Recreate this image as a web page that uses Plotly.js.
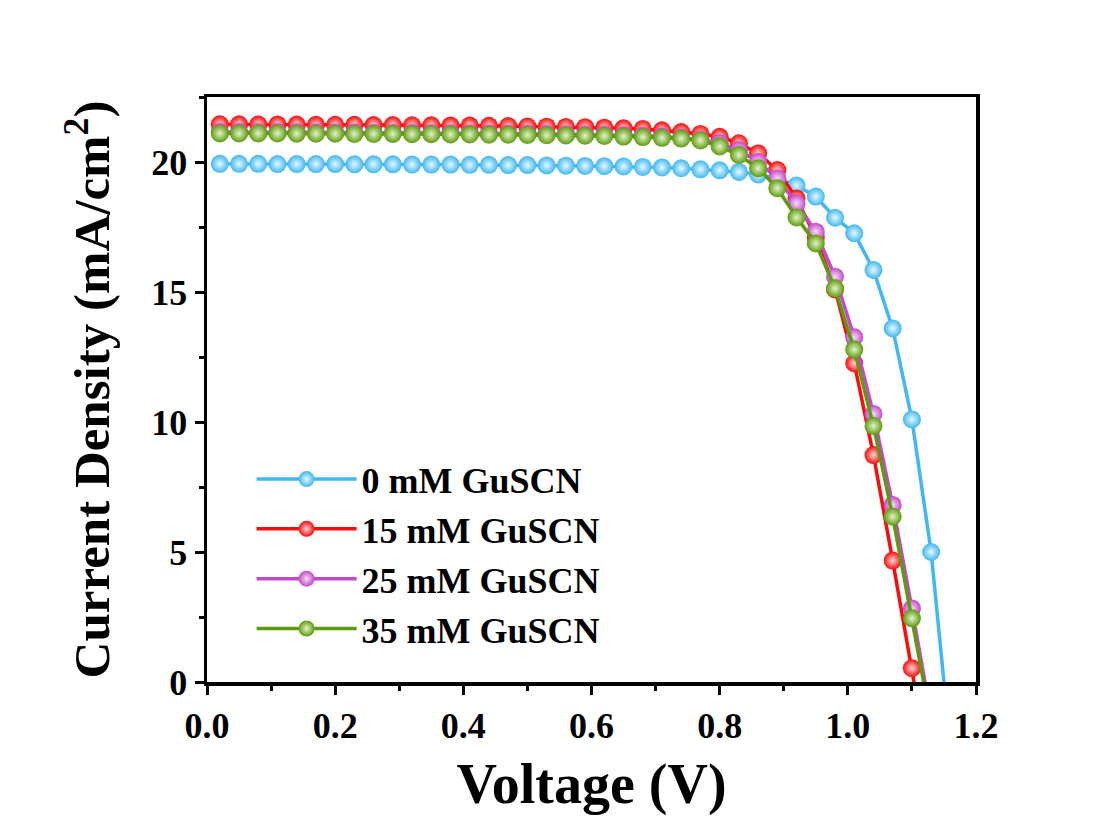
<!DOCTYPE html>
<html>
<head>
<meta charset="utf-8">
<script src="https://cdn.plot.ly/plotly-3.0.1.min.js"></script>
<style>html,body{margin:0;padding:0;background:#fff;}#chart{width:1100px;height:816px;}</style>
</head>
<body>
<div id="chart"></div>
<script>
const voltage = [0.02,0.05,0.08,0.11,0.14,0.17,0.20,0.23,0.26,0.29,0.32,0.35,0.38,0.41,0.44,0.47,0.50,0.53,0.56,0.59,0.62,0.65,0.68,0.71,0.74,0.77,0.80,0.83,0.86,0.89,0.92,0.95,0.98,1.01,1.04,1.07,1.10,1.13,1.16];

const j0mM = [19.93,19.93,19.93,19.92,19.92,19.92,19.92,19.91,19.91,19.91,19.90,19.90,19.90,19.89,19.89,19.88,19.88,19.87,19.86,19.85,19.84,19.83,19.81,19.79,19.76,19.72,19.68,19.62,19.52,19.35,19.10,18.67,17.86,17.26,15.85,13.60,10.10,5.00,-2.50];
const j15mM = [21.45,21.45,21.44,21.44,21.44,21.43,21.43,21.43,21.42,21.42,21.41,21.41,21.40,21.40,21.39,21.38,21.37,21.36,21.35,21.34,21.32,21.30,21.27,21.22,21.15,21.08,20.97,20.72,20.33,19.69,18.60,17.10,15.10,12.26,8.73,4.67,0.53,-3.60,-8.00];
const j25mM = [21.15,21.15,21.14,21.14,21.14,21.13,21.13,21.13,21.12,21.12,21.12,21.11,21.11,21.10,21.10,21.09,21.09,21.08,21.07,21.06,21.05,21.03,21.01,20.98,20.93,20.86,20.72,20.45,20.00,19.37,18.41,17.32,15.59,13.26,10.31,6.81,2.83,-1.20,-5.50];
const j35mM = [21.10,21.10,21.10,21.10,21.09,21.09,21.09,21.08,21.08,21.08,21.07,21.07,21.06,21.06,21.05,21.05,21.04,21.03,21.02,21.01,21.00,20.98,20.96,20.93,20.90,20.83,20.60,20.27,19.76,18.99,17.87,16.87,15.14,12.79,9.85,6.36,2.45,-1.45,-5.50];

const seriesNames = ['0 mM GuSCN','15 mM GuSCN','25 mM GuSCN','35 mM GuSCN'];
const seriesValues = [j0mM, j15mM, j25mM, j35mM];
const seriesColors = ['#3fb8f4','#ff0a0a','#c448c8','#5c9c0c'];
const seriesHighlights = ['#e6f7ff','#ffd6d6','#f6dcf6','#e4f2cc'];

const xTicks = [0.0,0.2,0.4,0.6,0.8,1.0,1.2];
const xTickLabels = ['0.0','0.2','0.4','0.6','0.8','1.0','1.2'];
const yTicks = [0,5,10,15,20];
const yTickLabels = ['0','5','10','15','20'];

const FONT = 'Liberation Serif, Times New Roman, serif';

const traces = seriesNames.map((name, i) => ({
  type: 'scatter',
  mode: 'lines+markers',
  name: name,
  x: voltage,
  y: seriesValues[i],
  line: {color: seriesColors[i], width: 3.5},
  marker: {
    color: seriesColors[i],
    size: 18,
    gradient: {type: 'radial', color: seriesHighlights[i]},
    line: {width: 0}
  },
  cliponaxis: true
}));

const axisCommon = {
  showline: true,
  linecolor: '#000',
  linewidth: 3.5,
  mirror: true,
  showgrid: false,
  zeroline: false,
  ticks: 'outside',
  ticklen: 9,
  tickwidth: 3,
  tickcolor: '#000',
  tickfont: {family: FONT, size: 36, color: '#000', weight: 'bold'}
};

const layout = {
  width: 1100,
  height: 816,
  paper_bgcolor: '#fff',
  plot_bgcolor: '#fff',
  margin: {l: 207, r: 124, t: 97, b: 134},
  showlegend: true,
  legend: {
    x: 0.058, y: 0.398, xanchor: 'left', yanchor: 'top',
    bgcolor: 'rgba(0,0,0,0)',
    font: {family: FONT, size: 36, color: '#000', weight: 'bold'},
    itemwidth: 100,
    tracegroupgap: 0
  },
  xaxis: Object.assign({}, axisCommon, {
    range: [0, 1.2],
    tickmode: 'array', tickvals: xTicks, ticktext: xTickLabels,
    minor: {dtick: 0.1, ticks: 'outside', ticklen: 5, tickwidth: 3, tickcolor: '#000', showgrid: false},
    title: {text: 'Voltage (V)', font: {family: FONT, size: 56, color: '#000', weight: 'bold'}, standoff: 26}
  }),
  yaxis: Object.assign({}, axisCommon, {
    range: [0, 22.5],
    tickmode: 'array', tickvals: yTicks, ticktext: yTickLabels,
    minor: {dtick: 2.5, ticks: 'outside', ticklen: 5, tickwidth: 3, tickcolor: '#000', showgrid: false},
    title: {text: 'Current Density (mA/cm<sup>2</sup>)', font: {family: FONT, size: 51, color: '#000', weight: 'bold'}, standoff: 26}
  })
};

Plotly.newPlot('chart', traces, layout, {displayModeBar: false, staticPlot: true});
</script>
</body>
</html>
